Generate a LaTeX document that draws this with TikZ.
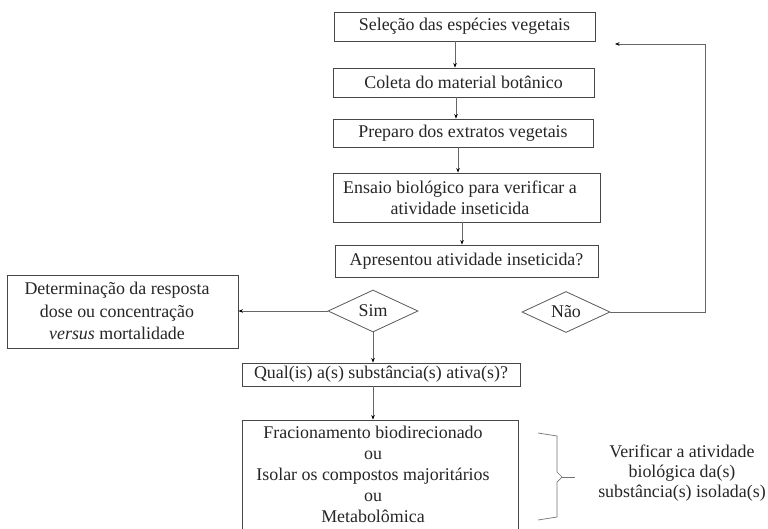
\documentclass[tikz,border=0pt]{standalone}
\usepackage{fontspec}
\setmainfont{Liberation Serif}
\newfontfamily\flowfont{Liberation Serif}
\usetikzlibrary{arrows.meta,shapes.geometric}
\begin{document}
\begin{tikzpicture}[x=1pt,y=-1pt,
  every node/.style={font=\flowfont\fontsize{17.9}{21}\selectfont, text=black!85},
  stepbox/.style={draw=black!72, line width=0.9pt, rectangle, inner sep=0pt},
  choice/.style={draw=black!65, line width=0.8pt, diamond, aspect=2, inner sep=1pt},
  arr/.style={draw=black!60, line width=0.7pt, -{Stealth[length=4.5pt,width=3.5pt,fill=black,color=black]}},
  link/.style={draw=black!55, line width=0.7pt},
  txt/.style={align=center}]
\clip (0,0) rectangle (768,528);
\fill[white] (0,0) rectangle (768,528);

% main column of steps
\node[stepbox, minimum width=261, minimum height=29] (b1) at (464.5,26.5) {Seleção das espécies vegetais};
\node[stepbox, minimum width=261, minimum height=29] (b2) at (463.5,82.5) {Coleta do material botânico};
\node[stepbox, minimum width=260, minimum height=28] (b3) at (463,133) {Preparo dos extratos vegetais};
\node[stepbox, minimum width=267, minimum height=49] (b4) at (466.5,197.5) {};
\node[txt] (b4t) at (460,198) {Ensaio biológico para verificar a\\atividade inseticida};
\node[stepbox, minimum width=263, minimum height=32] (b5) at (466.5,261) {Apresentou atividade inseticida?};

% decisions
\node[choice, minimum width=90, minimum height=42] (sim) at (373,311) {Sim};
\node[choice, minimum width=88, minimum height=41] (nao) at (566,312) {Não};

% dose-response branch
\node[stepbox, minimum width=231, minimum height=73] (dose) at (122.5,311.5) {};
\node[txt, font=\flowfont\fontsize{17.9}{22.5}\selectfont] (doset) at (117,311) {Determinação da resposta\\dose ou concentração\\\textit{versus} mortalidade};

% active substances
\node[stepbox, minimum width=278, minimum height=23] (qual) at (381,374.5) {Qual(is) a(s) substância(s) ativa(s)?};
\node[stepbox, minimum width=276, minimum height=112] (frac) at (380,476) {};
\node[txt] (fract) at (373,474.5) {Fracionamento biodirecionado\\ou\\Isolar os compostos majoritários\\ou\\Metabolômica};

% side note with its brace
\node[txt, font=\flowfont\fontsize{17.9}{20}\selectfont] (note) at (682,473) {Verificar a atividade\\biológica da(s)\\substância(s) isolada(s)};
\draw[link] (538,433) -- (557,436) -- (557,472) -- (562,477) -- (557,482) -- (557,517) -- (538,520);
\draw[link] (562,477) -- (575,477);

% column x positions of the vertical arrows
\coordinate (x1) at (455,0);
\coordinate (x2) at (456,0);
\coordinate (x3) at (458,0);
\coordinate (x4) at (462,0);
\coordinate (loopend) at (615,44);

\draw[arr] (b1.south -| x1) -- (b2.north -| x1);
\draw[arr] (b2.south -| x2) -- (b3.north -| x2);
\draw[arr] (b3.south -| x3) -- (b4.north -| x3);
\draw[arr] (b4.south -| x4) -- (b5.north -| x4);

\draw[arr] (sim.west) -- (sim.west -| dose.east);
\draw[arr] (sim.south) -- (sim.south |- qual.north);
\draw[arr] (qual.south -| sim.south) -- (frac.north -| sim.south);

% loop back from "Não"
\draw[arr] (nao.east) -- (705,312) |- (loopend);
\end{tikzpicture}
\end{document}
